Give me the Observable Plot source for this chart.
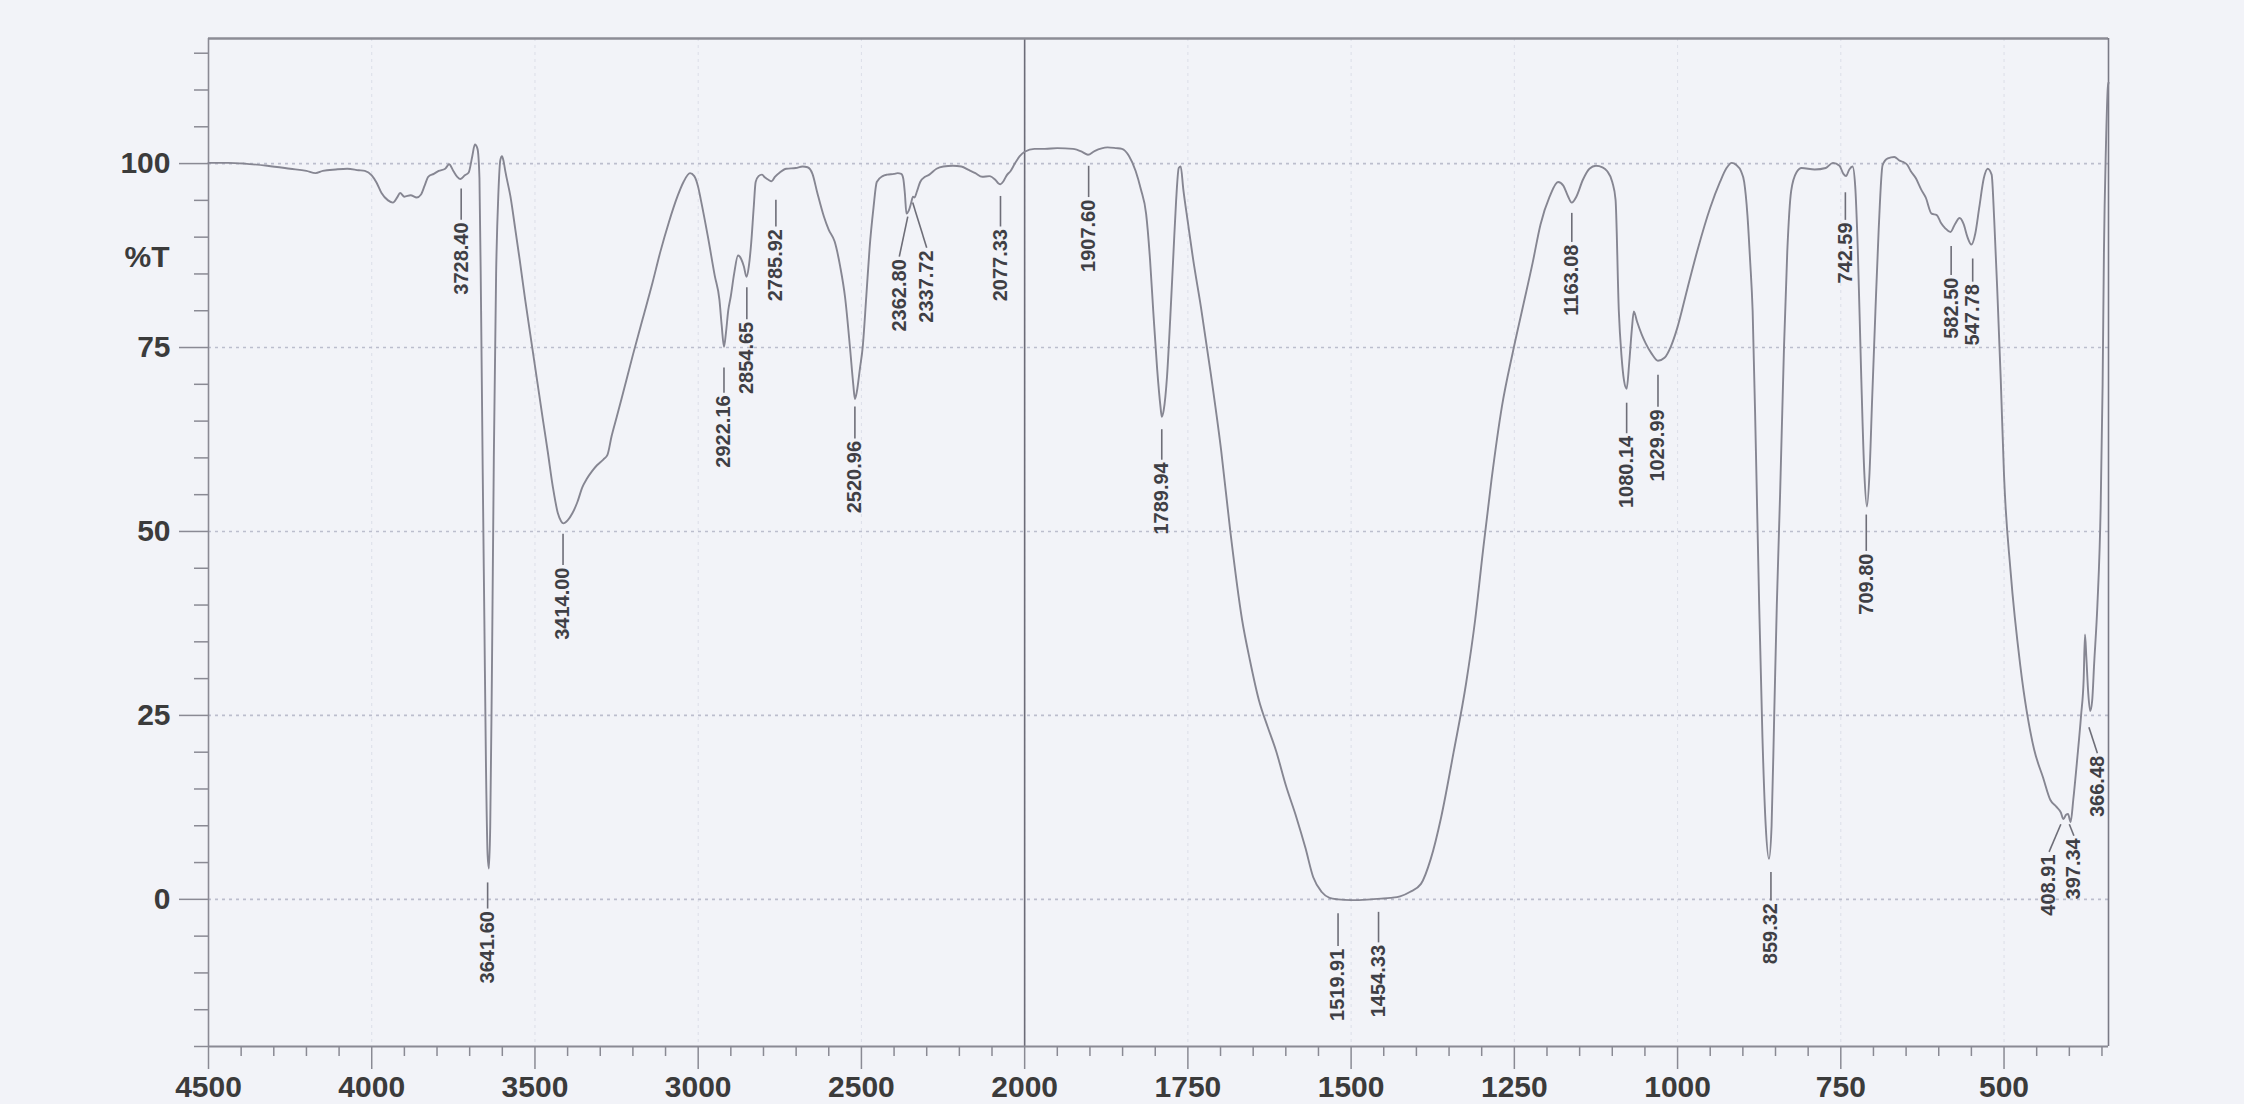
<!DOCTYPE html>
<html>
<head>
<meta charset="utf-8">
<script src="https://cdn.jsdelivr.net/npm/d3@7"></script>
<script src="https://cdn.jsdelivr.net/npm/@observablehq/plot@0.6"></script>
<style>
html, body { margin: 0; padding: 0; background: #f2f3f8; }
#chart { width: 2244px; height: 1104px; overflow: hidden; }
svg { display: block; }
</style>
</head>
<body>
<div id="chart"></div>
<script>
// Spectrum: wavenumber (cm-1) and transmittance (%T)
const wavenumber = [4500,4440,4390,4320,4250,4200,4172,4150,4110,4075,4040,4021,4000,3985,3970,3950,3935,3922,3913,3900,3881,3862,3849,3838,3827,3810,3795,3775,3763,3750,3738,3728,3715,3703,3692,3684,3676,3670,3665,3660,3655,3650,3645,3641,3637,3632,3626,3619,3612,3606,3601,3596,3591,3575,3560,3547,3530,3515,3493,3475,3461,3445,3430,3420,3413,3400,3385,3370,3355,3342,3325,3310,3290,3278,3265,3250,3235,3200,3170,3140,3116,3090,3063,3045,3025,3012,3000,2992,2970,2949,2935,2928,2921,2915,2908,2900,2890,2878,2868,2860,2852,2845,2838,2830,2824,2815,2805,2795,2785,2775,2765,2750,2730,2701,2680,2665,2650,2635,2615,2600,2582,2565,2550,2535,2525,2520,2514,2505,2496,2485,2475,2463,2453,2435,2421,2400,2389,2378,2372,2367,2362,2355,2348,2342,2337,2330,2320,2305,2292,2270,2249,2220,2194,2170,2151,2130,2108,2090,2080,2074,2065,2055,2043,2030,2015,2000,1985,1969,1950,1926,1912,1903,1893,1873,1860,1851,1840,1830,1822,1814,1808,1803,1797,1792,1790,1787,1782,1777,1772,1768,1764,1761,1757,1750,1742,1730,1715,1699,1685,1667,1655,1641,1628,1615,1600,1584,1570,1558,1545,1533,1520,1500,1488,1470,1454,1440,1425,1410,1393,1378,1362,1343,1324,1310,1298,1285,1269,1252,1237,1222,1210,1196,1183,1175,1168,1162,1155,1145,1135,1125,1115,1108,1100,1095,1090,1086,1082,1078,1074,1070,1067,1062,1055,1049,1040,1030,1020,1010,1001,985,969,950,935,925,917,910,903,898,893,889,885,880,875,870,865,860,856,852,848,843,837,832,826,818,810,790,773,762,752,746,742,737,732,728,724,719,714,710,706,702,697,692,686,678,668,660,654,648,643,635,627,620,611,603,597,590,582,575,568,562,556,550,544,538,531,525,519,515,510,505,500,490,475,454,440,429,420,413,409,405,402,398,394,388,382,378,376,374,371,368,365,362,357,352,349,347,344,341,340];
const transmittance = [100.1,100.1,100.0,99.7,99.3,99.0,98.7,99.0,99.2,99.3,99.1,99.0,98.4,97.4,96.0,95.0,94.7,95.4,96.0,95.5,95.7,95.4,95.8,97.0,98.2,98.6,99.0,99.3,99.9,99.0,98.2,97.9,98.4,98.8,101.0,102.6,102.0,98,80,58,38,18,6,4.2,10,30,60,85,96,100.5,101.0,100.3,99.0,95.5,91,87.0,81.5,77,70.4,65,60.9,56,52.5,51.4,51.1,51.5,52.5,54,56,57.1,58.2,59.0,59.8,60.4,63,65.5,68.0,74,78.9,83.8,88.0,92,95.6,97.5,98.7,98.3,96.8,95.1,90,84.7,81.5,78,75.1,77,80,82,85,87.5,87,86,84.6,86,89,94,97.5,98.3,98.5,98.1,97.8,97.6,98.2,98.8,99.3,99.4,99.6,99.5,98.6,96,92.8,91,89.4,86,81.8,75,70,68.0,69,72,75.1,82,88.5,94,97.5,98.3,98.5,98.6,98.7,98.6,98.0,96,93.2,93.6,94.6,95.5,95.4,96.2,97.5,98.2,98.5,99.3,99.6,99.7,99.6,99.1,98.7,98.2,98.3,97.8,97.3,97.2,97.6,98.4,99.0,100.0,101.0,101.6,102.0,102.0,102.1,102.0,101.6,101.2,101.7,102.2,102.1,102.0,101,99.0,96.5,93.2,87,79.9,72,67,65.6,66.5,71,79,88,95,99.4,99.6,96.5,92,87,80.5,71.5,61,50,38,32.5,27,23.5,20.2,15.5,11.2,7,3.0,1.0,0.2,0.0,-0.1,-0.1,0.0,0.1,0.2,0.4,1.0,2.1,5.5,11.2,20,29.3,38,47.4,57,67,74.5,80.5,86.5,91.7,95.5,97.5,97.0,95.6,94.7,95.5,97.8,99.3,99.7,99.5,99.0,97.5,95.1,80,74,70.5,69.4,73,77.5,79.9,78.5,76.8,75.6,74.2,73.2,73.6,75.2,77.5,83,88.4,94,97.5,99.4,100.1,99.8,99.0,97.5,93,87,79.9,60.9,40,22,10,5.5,10,25,40,55,75,88,96.3,98.8,99.4,99.2,99.4,100.1,99.7,98.6,98.3,99.2,99.6,97,88.4,72,58,53.4,58,68,79.9,91,99.8,100.7,100.9,100.4,100.2,99.8,99.0,98.0,96.5,95.4,93.2,93.0,92.0,91.2,90.7,91.8,92.6,91.8,90.0,89.0,90.5,94,98,99.3,98.5,92.3,82,70.6,57.6,44.6,31.7,20.4,16.5,13.5,12.6,11.8,10.9,11.5,11.6,10.5,13.5,19,25,30,36,33,28,25.6,27,32,40,53.3,70,87.9,102,110.4,111];

// Peak annotations
const peakLabels = ["3728.40","3641.60","3414.00","2922.16","2854.65","2785.92","2520.96","2362.80","2337.72","2077.33","1907.60","1789.94","1519.91","1454.33","1163.08","1080.14","1029.99","859.32","742.59","709.80","582.50","547.78","408.91","397.34","366.48"];
const leaderFromX = [3726,3645,3414,2921,2851,2762,2520,2358,2343,2074,1902,1790,1520,1458,1162,1078,1030,857,743,711,581,548,413,400,370];
const leaderFromT = [96.6,2.3,49.7,72.3,83.2,95.1,67.0,92.8,94.7,95.6,99.7,63.9,-1.9,-1.7,93.3,67.5,71.3,3.7,96.1,52.3,88.8,87.1,10.2,10.2,23.4];
const labelX = [3726,3645,3414,2921,2851,2762,2520,2384,2300,2074,1902,1790,1520,1458,1162,1078,1030,857,743,711,581,548,431,393,357];
const labelT = [92.0,-1.6,45.1,68.5,78.5,91.1,62.3,87.0,88.2,91.1,95.1,59.4,-6.7,-6.2,89.0,63.0,66.6,-0.5,92.0,47.0,84.5,83.6,6.1,8.3,19.5];

// Axis ticks (cm-1) and %T ticks
const xMajorTicks = [4500,4000,3500,3000,2500,2000,1750,1500,1250,1000,750,500];
const xMinorTicks = [4400,4300,4200,4100,3900,3800,3700,3600,3400,3300,3200,3100,2900,2800,2700,2600,2400,2300,2200,2100,1950,1900,1850,1800,1700,1650,1600,1550,1450,1400,1350,1300,1200,1150,1100,1050,950,900,850,800,700,650,600,550,450,400,350];
const yMajorTicks = [0,25,50,75,100];
const yMinorTicks = [-20,-15,-10,-5,5,10,15,20,30,35,40,45,55,60,65,70,80,85,90,95,105,110,115];
const yTitle = ["%T"];

// The instrument expands the scale 2x below 2000 cm-1: chart abscissa in "recorder units"
const BREAK = 2000, START = 4500, END = 340;
const pos = w => w >= BREAK ? (START - w) / 2 : (START - BREAK) / 2 + (BREAK - w);
const inv = u => u <= (START - BREAK) / 2 ? START - 2 * u : BREAK - (u - (START - BREAK) / 2);

const spectrum = wavenumber.map((w, i) => ({u: pos(w), t: transmittance[i]}));
const peaks = peakLabels.map((s, i) => ({s, fu: pos(leaderFromX[i]), ft: leaderFromT[i], lu: pos(labelX[i]), lt: labelT[i]}));

const FONT = "'Liberation Sans', Arial, sans-serif";
const AX = "#8a8a94";
const fmt = u => String(Math.round(inv(u)));
const blank = () => "";

const chart = Plot.plot({
  width: 2244,
  height: 1104,
  marginLeft: 208,
  marginRight: 136,
  marginTop: 38,
  marginBottom: 58,
  style: {background: "transparent", fontFamily: FONT, overflow: "visible"},
  x: {domain: [pos(START), pos(END)]},
  y: {domain: [-20, 117]},
  marks: [
    Plot.gridX(xMajorTicks.map(pos), {stroke: "#dcdee8", strokeOpacity: 1, strokeDasharray: "3,4", strokeWidth: 1}),
    Plot.gridY(yMajorTicks, {stroke: "#bcbecd", strokeOpacity: 1, strokeDasharray: "3,4", strokeWidth: 1.6}),
    Plot.ruleX([pos(BREAK)], {stroke: "#6c6c78", strokeWidth: 1.6}),
    Plot.ruleY([117], {stroke: "#8c8c96", strokeWidth: 2.6}),
    Plot.ruleX([pos(END)], {stroke: "#7a7a86", strokeWidth: 1.6}),
    Plot.ruleX([pos(START)], {stroke: AX, strokeWidth: 1.6}),
    Plot.ruleY([-20], {stroke: AX, strokeWidth: 2.2}),
    Plot.axisY(yMinorTicks, {tickSize: 14, tickFormat: blank, stroke: AX, strokeWidth: 1.5, label: null}),
    Plot.axisY(yMajorTicks, {tickSize: 29, tickPadding: 9, stroke: AX, strokeWidth: 1.5, fill: "#3b3b3b", fontSize: 30, fontWeight: "bold", label: null}),
    Plot.axisX(xMinorTicks.map(pos), {tickSize: 10, tickFormat: blank, stroke: AX, strokeWidth: 1.5, label: null}),
    Plot.axisX(xMajorTicks.map(pos), {tickSize: 23, tickPadding: 6, tickFormat: fmt, stroke: AX, strokeWidth: 1.5, fill: "#3b3b3b", fontSize: 30, fontWeight: "bold", label: null}),
    Plot.text(yTitle, {frameAnchor: "left", y: () => 87.3, text: d => d, dx: -39, textAnchor: "end", fontSize: 30, fontWeight: "bold", fill: "#3b3b3b"}),
    Plot.line(spectrum, {x: "u", y: "t", stroke: "#868692", strokeWidth: 1.9, curve: "monotone-x"}),
    Plot.link(peaks, {x1: "fu", y1: "ft", x2: "lu", y2: d => d.lt + 0.35, stroke: "#6e6e78", strokeWidth: 1.6}),
    Plot.text(peaks, {x: "lu", y: "lt", text: "s", rotate: -90, textAnchor: "end", lineAnchor: "middle", fontSize: 20, fontWeight: "bold", fill: "#3f3f45"})
  ]
});
document.getElementById("chart").appendChild(chart);
</script>
</body>
</html>
